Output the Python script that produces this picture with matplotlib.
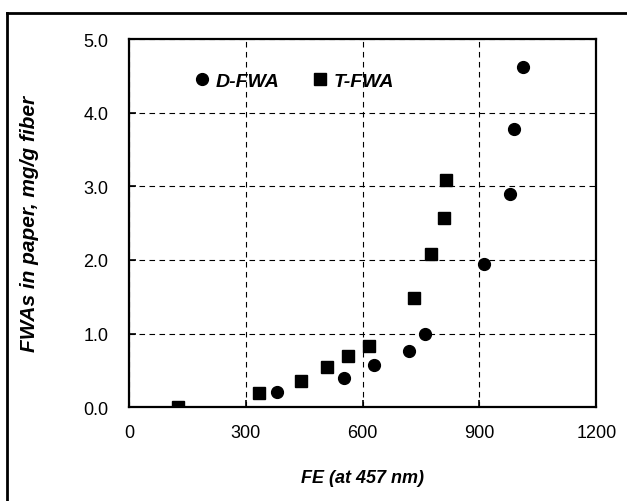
import matplotlib
matplotlib.use("Agg")
import matplotlib.pyplot as plt
from matplotlib.lines import Line2D

plt.rcParams["font.family"] = ["Liberation Sans", "DejaVu Sans"]

# D-FWA (circles)
d_fe = [381, 551, 630, 720, 760, 912, 979, 988, 1012]
d_fwa = [0.20, 0.40, 0.57, 0.76, 0.99, 1.94, 2.90, 3.78, 4.62]

# T-FWA (squares)
t_fe = [126, 334, 441, 508, 563, 617, 732, 776, 810, 814]
t_fwa = [0.00, 0.19, 0.36, 0.55, 0.70, 0.83, 1.48, 2.08, 2.57, 3.09]

x_ticks = [0, 300, 600, 900, 1200]
y_ticks = [0.0, 1.0, 2.0, 3.0, 4.0, 5.0]

fig = plt.figure(figsize=(6.27, 5.02), dpi=100)
ax = fig.add_axes([0.206, 0.187, 0.745, 0.733])

ax.plot(d_fe, d_fwa, "o", color="black", ms=8.5, label="D-FWA", zorder=3)
ax.plot(t_fe, t_fwa, "s", color="black", ms=8.5, label="T-FWA", zorder=3)

ax.set_xlim(0, 1200)
ax.set_ylim(0, 5)
ax.set_xticks(x_ticks)
ax.set_yticks(y_ticks)
ax.set_yticklabels([f"{v:.1f}" for v in y_ticks])
ax.tick_params(direction="in", length=5, width=1.2, labelsize=13)
ax.tick_params(axis="y", pad=15)
ax.tick_params(axis="x", pad=12)

for s in ax.spines.values():
    s.set_linewidth(1.6)

ax.grid(True, color="black", linestyle=(0, (5, 4)), linewidth=0.8)
ax.set_axisbelow(True)

ax.set_xlabel("FE (at 457 nm)", fontsize=13, fontweight="bold", style="italic", labelpad=20.5)
ax.set_ylabel("FWAs in paper, mg/g fiber", fontsize=15, fontweight="bold", style="italic", labelpad=32)

ax.legend(loc="upper left", bbox_to_anchor=(0.102, 0.958), ncol=2, frameon=False,
          prop={"weight": "bold", "style": "italic", "size": 14},
          handletextpad=0.3, columnspacing=1.7, handlelength=0.8)

# outer border (top and left sides visible)
fig.add_artist(Line2D([7 / 627, 1.0], [1 - 14 / 502, 1 - 14 / 502], color="black", lw=2,
                      transform=fig.transFigure))
fig.add_artist(Line2D([7 / 627, 7 / 627], [0.0, 1 - 14 / 502], color="black", lw=2,
                      transform=fig.transFigure))

fig.savefig("out.png", dpi=100)
